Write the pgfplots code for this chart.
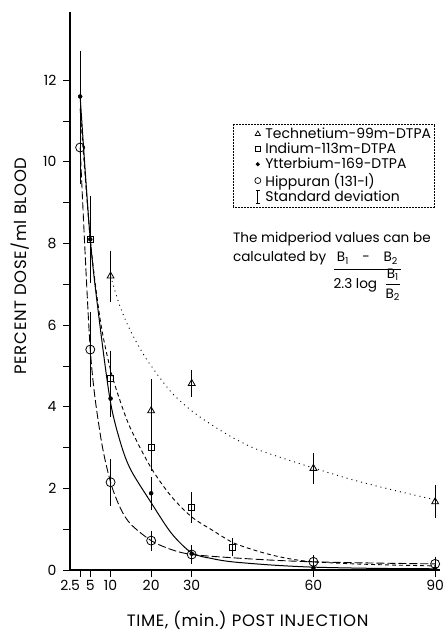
\documentclass[border=0pt]{standalone}
\usepackage{pgfplots}
\pgfplotsset{compat=1.18}
\usepackage{fontspec}
\setmainfont{Poppins}

\begin{document}
\begin{tikzpicture}
\begin{axis}[
    name=ax,
    scale only axis,
    width=370pt, height=558pt,
    xmin=0, xmax=91.2,
    ymin=0, ymax=13.67,
    axis x line*=bottom, axis y line*=left,
    axis line style={line width=1.1pt},
    tick align=outside,
    xtick={5,10,20,30,60,90},
    extra x ticks={2.5},
    extra x tick style={xticklabel style={xshift=-10pt}},
    ytick={0,2,...,12},
    minor y tick num=1,
    major tick length=7pt, minor tick length=7pt,
    every tick/.style={black, line width=0.8pt},
    /pgf/number format/assume math mode=true,
    ticklabel style={font=\fontsize{14}{16}\selectfont},
    yticklabel style={xshift=-3pt},
    every axis y label/.style={at={(axis description cs:0,0.545)}, xshift=-50pt, rotate=90, anchor=center},
    every axis x label/.style={at={(axis description cs:0.48,0)}, yshift=-50pt, anchor=center},
    label style={font=\fontsize{16.5}{18}\selectfont\addfontfeature{LetterSpace=4}},
    xlabel={TIME, (min.)\ POST\ INJECTION},
    ylabel={PERCENT\ DOSE/ml\ BLOOD},
    legend cell align=left,
    legend style={at={(rel axis cs:0.44,0.80)}, anchor=north west,
        draw=black, densely dotted, line width=0.5pt, fill=none,
        font=\fontsize{14}{17}\selectfont, row sep=-1pt, inner sep=2pt,
        nodes={inner xsep=1.5pt}},
    error bars/error bar style={black, line width=0.7pt},
    error bars/error mark options={black, mark size=3pt, line width=0.7pt, solid},
]
% legend entries
\addlegendimage{legend image code/.code={\path[draw=none] (0,0)--(0.9cm,0); \draw[solid, mark=triangle, mark size=3pt, line width=0.7pt] plot coordinates {(0.8cm,0)};}}
\addlegendentry{\hspace{3pt}Technetium-99m-DTPA}
\addlegendimage{legend image code/.code={\path[draw=none] (0,0)--(0.9cm,0); \draw[solid, mark=square, mark size=2.5pt, line width=0.7pt] plot coordinates {(0.8cm,0)};}}
\addlegendentry{\hspace{3pt}Indium-113m-DTPA}
\addlegendimage{legend image code/.code={\path[draw=none] (0,0)--(0.9cm,0); \draw[solid, mark=*, mark size=1.8pt] plot coordinates {(0.8cm,0)};}}
\addlegendentry{\hspace{3pt}Ytterbium-169-DTPA}
\addlegendimage{legend image code/.code={\path[draw=none] (0,0)--(0.9cm,0); \draw[solid, mark=o, mark size=3pt, line width=0.7pt] plot coordinates {(0.8cm,0)};}}
\addlegendentry{\hspace{3pt}Hippuran (131-I)}
\addlegendimage{legend image code/.code={\path[draw=none] (0,0)--(0.9cm,0); \draw[solid, line width=0.7pt] (0.8cm,-0.22cm)--(0.8cm,0.22cm) (0.73cm,-0.22cm)--(0.87cm,-0.22cm) (0.73cm,0.22cm)--(0.87cm,0.22cm);}}
\addlegendentry{\hspace{3pt}Standard deviation}

% fitted curves
\addplot[forget plot, black, line width=0.9pt, dash pattern=on 1pt off 4pt, smooth] coordinates {
 (10,7.2) (12,6.55) (14,6.05) (16,5.65) (18,5.3) (20,5.0) (25,4.35) (30,3.9) (35,3.55)
 (40,3.25) (45,3.0) (50,2.82) (60,2.5) (70,2.2) (80,1.95) (90,1.72)};
\addplot[forget plot, black, line width=0.9pt, dash pattern=on 4pt off 3pt, smooth, tension=0.5] coordinates {
 (2.5,11.3) (5,8.1) (7.5,6.1) (10,4.9) (12.5,4.1) (15,3.45) (20,2.5) (25,1.8) (30,1.3)
 (35,0.98) (40,0.68) (45,0.5) (50,0.36) (55,0.26) (60,0.2) (70,0.15) (80,0.12) (90,0.1)};
\addplot[forget plot, black, line width=1pt, smooth, tension=0.5] coordinates {
 (2.5,11.6) (5,8.1) (7.5,5.9) (10,4.1) (12.5,3.1) (15,2.45) (20,1.65) (25,0.9) (30,0.42)
 (35,0.28) (40,0.2) (50,0.12) (60,0.07) (75,0.04) (90,0.03)};
\addplot[forget plot, black, line width=0.9pt, dash pattern=on 8pt off 3pt, smooth, tension=0.5] coordinates {
 (2.5,10.35) (5,5.4) (7.5,3.3) (10,2.15) (12.5,1.5) (15,1.12) (20,0.72) (25,0.5) (30,0.38)
 (40,0.3) (50,0.24) (60,0.2) (75,0.17) (90,0.15)};

% measured points with standard deviations
\addplot[forget plot, only marks, mark=triangle, mark size=4pt, line width=0.8pt, mark options={fill=white},
    error bars/.cd, y dir=both, y explicit] coordinates {
 (10,7.2) +- (0,0.55) (20,3.9) +- (0,0.7) (30,4.57) +- (0,0.25) (60,2.49) +- (0,0.3) (90,1.67) +- (0,0.33)};
\addplot[forget plot, only marks, mark=square, mark size=3pt, line width=0.8pt, mark options={fill=white},
    error bars/.cd, y dir=both, y explicit] coordinates {
 (5,8.1) +- (0,1.0) (10,4.7) +- (0,0.6) (20,3.0) +- (0,0.5) (30,1.53) +- (0,0.3) (40,0.56) +- (0,0.15)};
\addplot[forget plot, only marks, mark=o, mark size=4.5pt, line width=0.8pt, mark options={fill=white},
    error bars/.cd, y dir=both, y explicit] coordinates {
 (2.5,10.35) +- (0,0.83) (5,5.4) +- (0,0.85) (10,2.15) +- (0,0.5) (20,0.72) +- (0,0.17)
 (30,0.38) +- (0,0.15) (60,0.2) +- (0,0.1) (90,0.15) +- (0,0.1)};
\addplot[forget plot, only marks, mark=*, mark size=2pt,
    error bars/.cd, y dir=both, y explicit] coordinates {
 (2.5,11.6) +- (0,1.05) (5,8.1) +- (0,0.3) (10,4.2) +- (0,0.38) (20,1.88) +- (0,0.33)
 (30,0.4) +- (0,0.1) (60,0.05) +- (0,0.05) (90,0.03) +- (0,0.03)};

\node[anchor=north west, align=left, inner sep=0pt, font=\fontsize{13.6}{19}\selectfont]
  at (rel axis cs:0.44,0.605)
  {The midperiod values can be\\
   calculated by \ \begin{tabular}[t]{@{}c@{}}
     B\textsubscript{1}\quad-\quad B\textsubscript{2}\\[1pt]\hline
     \rule{0pt}{15pt}2.3 log\ \ $\displaystyle\frac{\mbox{B\textsubscript{1}}}{\mbox{B\textsubscript{2}}}$
   \end{tabular}};
\end{axis}
\pgfresetboundingbox
\path (ax.south west) ++(-70pt,-61pt) rectangle ([shift={(4pt,12pt)}]ax.north east);
\end{tikzpicture}
\end{document}
